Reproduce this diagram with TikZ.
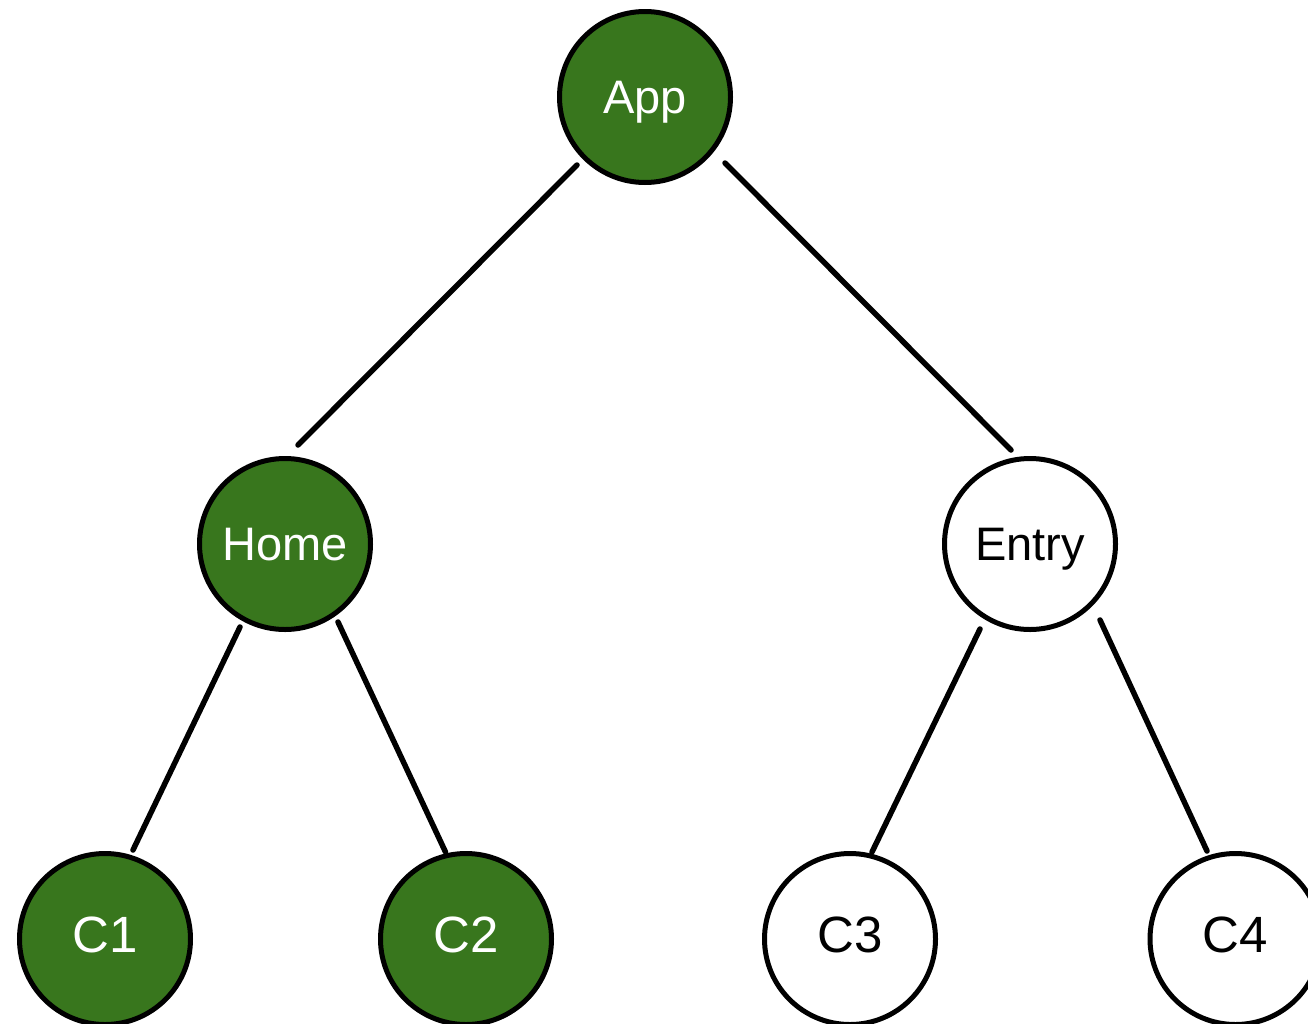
\documentclass[tikz,border=0pt]{standalone}
\usepackage{fontspec}
\setmainfont{Liberation Sans}
\usetikzlibrary{calc}
\definecolor{leafgreen}{HTML}{38761D}
\begin{document}
\begin{tikzpicture}[x=1pt,y=-1pt,
  vert/.style={circle, draw=black, line width=5pt, minimum size=171pt, inner sep=0pt,
    text height=33pt, text depth=0pt, font=\fontsize{47}{50}\selectfont},
  leaf/.style={text height=37pt, text depth=10pt, font=\fontsize{51}{55}\selectfont},
  done/.style={vert, fill=leafgreen, text=white},
  todo/.style={vert, fill=white, text=black},
  edge/.style={line width=5.5pt, line cap=round}]
\clip (0,0) rectangle (1308,1023);
\useasboundingbox (0,0) rectangle (1308,1023);

\node[done] (App)   at (645,97)   {App};
\node[done] (Home)  at (285,544)  {Home};
\node[todo] (Entry) at (1030,544) {Entry};
\node[done, leaf] (C1) at (105,939)  {C1};
\node[done, leaf] (C2) at (466,939)  {C2};
\node[todo, leaf] (C3) at (850,939)  {C3};
\node[todo, leaf] (C4) at (1235.5,939) {C4};

\draw[edge] ($(App)+(-68,68)$) -- ($(Home)+(13,-99)$);
\draw[edge] ($(App)+(80,66)$) -- ($(Entry)+(-19,-94)$);
\draw[edge] ($(Home)+(-45,83)$) -- ($(C1)+(28,-89)$);
\draw[edge] ($(Home)+(53,78)$) -- ($(C2)+(-20.5,-87)$);
\draw[edge] ($(Entry)+(-50,85)$) -- ($(C3)+(22,-87)$);
\draw[edge] ($(Entry)+(70,76)$) -- ($(C4)+(-28.5,-88)$);
\end{tikzpicture}
\end{document}
